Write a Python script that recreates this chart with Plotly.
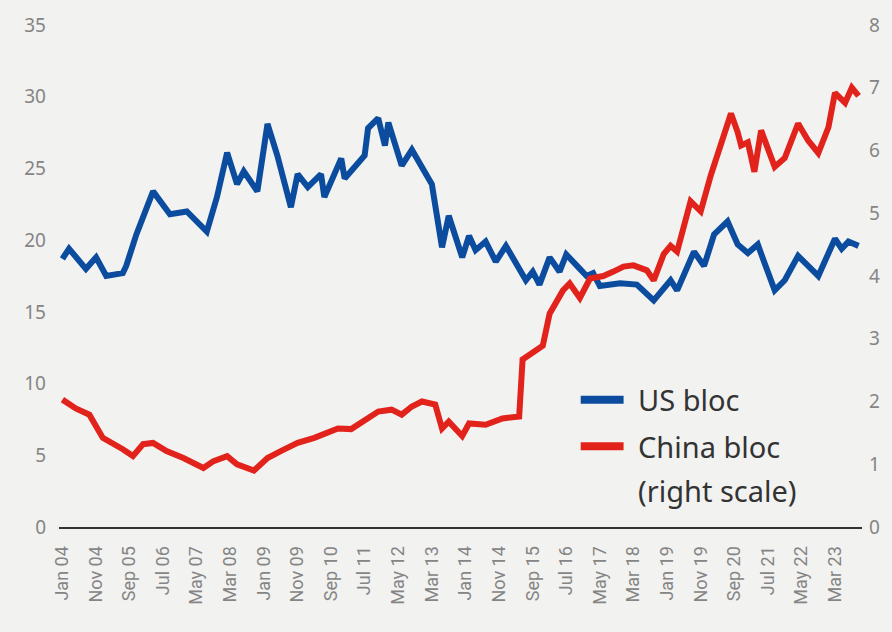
import plotly.graph_objects as go

us_dates = ["2004-01","2004-03","2004-08","2004-11","2005-02","2005-07","2005-08","2005-11","2006-04","2006-09",
            "2007-02","2007-08","2007-11","2008-02","2008-05","2008-07","2008-11","2009-02","2009-05","2009-09",
            "2009-11","2010-02","2010-06","2010-07","2010-12","2011-01","2011-07","2011-08","2011-11","2012-01",
            "2012-02","2012-06","2012-09","2013-03","2013-06","2013-08","2013-12","2014-02","2014-04","2014-07",
            "2014-10","2015-01","2015-07","2015-09","2015-11","2016-02","2016-05","2016-07","2016-11","2017-01",
            "2017-03","2017-05","2017-11","2018-04","2018-09","2018-12","2019-02","2019-04","2019-09","2019-12",
            "2020-03","2020-07","2020-10","2021-01","2021-04","2021-06","2021-09","2021-12","2022-04","2022-07",
            "2022-10","2023-03","2023-05","2023-07","2023-10"]
us_values = [18.7,19.4,18.0,18.8,17.5,17.7,18.2,20.4,23.4,21.8,
             22.0,20.6,23.0,26.1,23.9,24.8,23.4,28.1,25.9,22.3,
             24.6,23.7,24.6,23.0,25.7,24.3,25.9,27.8,28.5,26.6,
             28.2,25.2,26.3,23.9,19.5,21.7,18.8,20.3,19.3,19.9,
             18.5,19.6,17.2,17.8,16.9,18.8,17.8,19.0,18.0,17.5,
             17.7,16.8,17.0,16.9,15.8,16.6,17.2,16.5,19.2,18.2,
             20.4,21.3,19.7,19.1,19.7,18.4,16.5,17.2,18.9,18.2,
             17.5,20.1,19.4,19.9,19.6]

china_dates = ["2004-01","2004-05","2004-09","2005-01","2005-07","2005-10","2006-01","2006-04","2006-08","2007-01",
               "2007-07","2007-10","2008-02","2008-05","2008-10","2009-02","2009-06","2009-11","2010-04","2010-07",
               "2010-11","2011-03","2011-08","2011-11","2012-03","2012-06","2012-09","2012-12","2013-04","2013-06",
               "2013-08","2013-12","2014-02","2014-07","2014-12","2015-05","2015-06","2015-09","2015-12","2016-02",
               "2016-06","2016-08","2016-11","2017-02","2017-06","2017-09","2017-12","2018-03","2018-07","2018-09",
               "2018-12","2019-02","2019-04","2019-08","2019-11","2020-02","2020-05","2020-08","2020-10","2020-11",
               "2021-01","2021-03","2021-05","2021-07","2021-09","2021-12","2022-04","2022-07","2022-10","2023-01",
               "2023-03","2023-06","2023-08","2023-10"]
china_values = [2.03,1.89,1.79,1.42,1.24,1.13,1.32,1.34,1.21,1.10,
                0.94,1.05,1.13,1.00,0.90,1.10,1.21,1.34,1.42,1.48,
                1.57,1.56,1.73,1.84,1.87,1.79,1.92,2.00,1.95,1.57,
                1.68,1.45,1.65,1.63,1.73,1.76,2.67,2.78,2.89,3.40,
                3.77,3.88,3.65,3.96,4.00,4.07,4.15,4.17,4.09,3.93,
                4.35,4.48,4.39,5.19,5.03,5.61,6.08,6.59,6.29,6.08,
                6.13,5.66,6.32,6.04,5.74,5.88,6.43,6.16,5.96,6.37,
                6.92,6.76,7.00,6.87]

left_ticks = [0, 5, 10, 15, 20, 25, 30, 35]
right_ticks = [0, 1, 2, 3, 4, 5, 6, 7, 8]
legend_labels = ["US bloc", "China bloc", "(right scale)"]

BLUE = "#0b4c9e"
RED = "#e2231c"
BG = "#f2f2f1"
TICK = "#858585"

fig = go.Figure()
fig.add_trace(go.Scatter(x=us_dates, y=us_values, name=legend_labels[0], mode="lines",
                         line=dict(color=BLUE, width=6), showlegend=False))
fig.add_trace(go.Scatter(x=china_dates, y=china_values, name=legend_labels[1],
                         mode="lines", line=dict(color=RED, width=6), yaxis="y2", showlegend=False))

# custom legend (paper coordinates)
PL, PW, PB, PH = 59, 805, 527, 509
def px(xp):
    return (xp - PL) / PW
def py(yp):
    return (PB - yp) / PH

fig.add_shape(type="line", xref="paper", yref="paper", x0=px(582), x1=px(625), y0=py(398), y1=py(398),
              line=dict(color=BLUE, width=8))
fig.add_shape(type="line", xref="paper", yref="paper", x0=px(582), x1=px(625), y0=py(445), y1=py(445),
              line=dict(color=RED, width=8))
for label, yy in zip(legend_labels, [398, 445, 490]):
    fig.add_annotation(text=label, xref="paper", yref="paper", x=px(637), y=py(yy),
                       xanchor="left", yanchor="middle", showarrow=False,
                       font=dict(size=29, color="#333333", family="Noto Sans"))

fig.update_layout(
    width=892, height=632,
    margin=dict(l=PL, r=892 - PL - PW, t=PB - PH, b=632 - PB),
    paper_bgcolor=BG, plot_bgcolor=BG,
    font=dict(family="Noto Sans", color=TICK),
    showlegend=False,
    xaxis=dict(type="date", range=["2003-12-01", "2023-11-01"],
               tick0="2004-01-01", dtick="M10", tickformat="%b %y",
               tickangle=-90, tickfont=dict(size=18, color=TICK, family="Liberation Sans Narrow, Roboto, sans-serif"),
               showgrid=False, zeroline=False, showline=True,
               linecolor="#333333", linewidth=2, ticks="", ticklabelstandoff=10),
    yaxis=dict(range=[0, 35], tickvals=left_ticks, showgrid=False, zeroline=False,
               tickfont=dict(size=19, color=TICK), ticks="", ticklabelstandoff=12),
    yaxis2=dict(range=[0, 8], tickvals=right_ticks, overlaying="y", side="right",
                showgrid=False, zeroline=False, tickfont=dict(size=19, color=TICK),
                ticks="", ticklabelstandoff=6),
)

fig.write_html("out.html", config={"displayModeBar": False},
               post_script="document.body.style.margin='0';document.body.style.background='%s';" % BG)
